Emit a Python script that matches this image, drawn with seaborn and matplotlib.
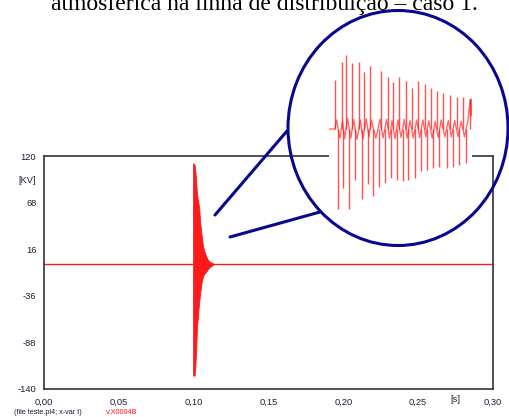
import matplotlib
matplotlib.use("Agg")
import matplotlib.pyplot as plt
from matplotlib.patches import Ellipse
from matplotlib.lines import Line2D
import seaborn as sns

# ---- main trace: voltage v:X0004B [kV] against time [s] ----
base_t = [0.0, 0.0996]
base_kv = [0.0, 0.0]
tail_t = [0.1129, 0.30]
tail_kv = [0.0, 0.0]

# envelope of the surge oscillation
env_t = [0.0996, 0.1006, 0.1011, 0.1017, 0.1022, 0.1029, 0.1036, 0.1044,
         0.1052, 0.1062, 0.1069, 0.1084, 0.1096, 0.1107, 0.1129]
env_hi = [112, 110, 104, 90, 78, 70, 63, 45, 33, 20, 15, 7.7, 4, 2, 0.3]
env_lo = [-125, -125, -115, -95, -72, -58, -44, -32, -22, -14.7, -12, -9, -6, -4, -1.6]

x_ticks = [0.00, 0.05, 0.10, 0.15, 0.20, 0.25, 0.30]
x_labels = ["0,00", "0,05", "0,10", "0,15", "0,20", "0,25", "0,30"]
y_ticks = [120, 94, 68, 42, 16, -10, -36, -62, -88, -114, -140]
y_labels = ["120", "[KV]", "68", "", "16", "", "-36", "", "-88", "", "-140"]

# ---- zoomed detail of the first microseconds of the surge ----
spike_t_us = [60, 127, 170, 233, 300, 353, 410, 520, 593, 643, 703, 770, 827,
              893, 960, 1020, 1083, 1143, 1210, 1277, 1343, 1410,
              93, 143, 203, 260, 327, 393, 437, 500, 560, 617, 677, 737, 793,
              860, 920, 977, 1043, 1100, 1177, 1237, 1303, 1367]
spike_kv = [76, 104, 115, 102, 104, 89, 98, 90, 81, 73, 80, 75, 63,
            75, 70, 63, 59, 55, 53, 50, 49, 47,
            -124, -92, -123, -79, -109, -85, -104, -89, -83, -76, -79, -80, -79,
            -75, -65, -63, -61, -58, -61, -58, -56, -53]
ripple_t_us = [0, 58, 76, 110, 135, 156, 186, 218, 246, 280,
               313, 340, 372, 400, 423, 468, 510, 540, 576, 605,
               630, 660, 690, 720, 753, 782, 810, 843, 876, 906,
               940, 968, 998, 1032, 1062, 1092, 1122, 1160, 1193, 1223,
               1257, 1290, 1322, 1355, 1388, 1412, 1416, 1420, 1424, 1428]
ripple_kv = [0, 0, 14, -14, 12, -15, 16, -14, 15, -16,
             14, -15, 16, -12, 14, -14, 15, -14, 15, -14,
             13, -15, 14, -13, 15, -14, 13, -14, 14, -13,
             14, -12, 13, -14, 12, -13, 14, -12, 13, -12,
             13, -12, 12, -12, 12, 46, 20, 46, 22, 46]

W, H = 509, 417
sns.set_style("white")
plt.rcParams["font.family"] = ["Liberation Sans", "DejaVu Sans"]

fig = plt.figure(figsize=(W / 100, H / 100), dpi=100)
ax = fig.add_axes([44 / W, 1 - 389 / H, (493 - 44) / W, (389 - 156) / H])

red = "#ff1a1a"
ax.fill_between(env_t, env_lo, env_hi, color=red, lw=0.6, edgecolor=red)
sns.lineplot(x=base_t, y=base_kv, ax=ax, color=red, lw=1.0, sort=False, estimator=None)
sns.lineplot(x=tail_t, y=tail_kv, ax=ax, color=red, lw=1.0, sort=False, estimator=None)

ax.set_xlim(0, 0.30)
ax.set_ylim(-140, 120)
ax.set_xticks(x_ticks)
ax.set_xticklabels(x_labels)
ax.set_yticks(y_ticks)
ax.set_yticklabels(y_labels)
ax.set_xlabel("")
ax.set_ylabel("")
spine_c = "#333333"
for s in ax.spines.values():
    s.set_color(spine_c)
    s.set_linewidth(1.2)
ax.tick_params(direction="out", length=4, width=1.1, color=spine_c,
               labelsize=6.7, labelcolor="#1c1c3a", pad=1.5)
ax.tick_params(axis="x", pad=2)
fig.text(455 / W, 1 - 399 / H, "[s]", ha="center", va="center",
         fontsize=6.7, color="#1c1c3a")

# inset with the enlarged waveform
axin = fig.add_axes([329 / W, 1 - 215 / H, 143 / W, 170 / H])
axin.set_facecolor("white")
axin.vlines(spike_t_us, 0, spike_kv, color=red, lw=1.0, alpha=0.75)
sns.lineplot(x=ripple_t_us, y=ripple_kv, ax=axin, color=red, lw=1.0, alpha=0.65,
             sort=False, estimator=None)
axin.set_xlim(0, 1430)
axin.set_ylim(-133, 130)
axin.set_xticks([])
axin.set_yticks([])
axin.set_xlabel("")
axin.set_ylabel("")
for s in axin.spines.values():
    s.set_visible(False)

# magnifier circle and its pointer lines
navy = "#08088e"
fig.add_artist(Ellipse((398 / W, 1 - 128 / H), 220 / W, 235 / H, fill=False,
                       edgecolor=navy, lw=2.2, transform=fig.transFigure, zorder=5))
fig.add_artist(Line2D([215 / W, 287 / W], [1 - 215 / H, 1 - 131 / H], color=navy,
                      lw=2.2, transform=fig.transFigure, zorder=5))
fig.add_artist(Line2D([230 / W, 320 / W], [1 - 237 / H, 1 - 212 / H], color=navy,
                      lw=2.2, transform=fig.transFigure, zorder=5))

# caption line above the plot (the page continues above this crop)
fig.text(264 / W, 1 - 10 / H, "atmosférica na linha de distribuição – caso 1.",
         ha="center", va="baseline", fontsize=17, family="Liberation Serif",
         color="black")

# file footer
fig.text(14 / W, 1 - 413 / H, "(file teste.pl4; x-var t)", ha="left", va="center",
         fontsize=5.2, color="#1c1c3a")
fig.text(106 / W, 1 - 413 / H, "v:X0004B", ha="left", va="center",
         fontsize=5.2, color=red)

fig.savefig("out.png", dpi=100)
